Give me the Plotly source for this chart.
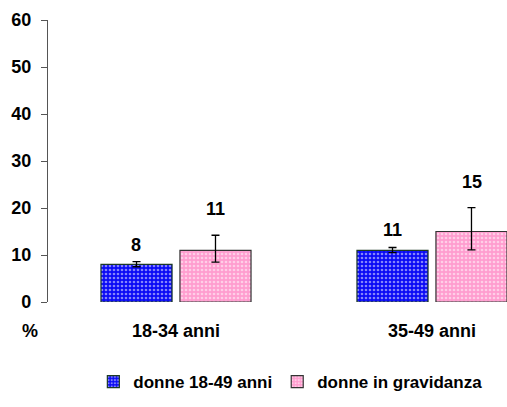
import plotly.graph_objects as go

categories = ["18-34 anni", "35-49 anni"]
series_names = ["donne 18-49 anni", "donne in gravidanza"]
donne = [8, 11]
donne_hi = [8.6, 11.6]
donne_lo = [7.5, 10.5]
gravidanza = [11, 15]
grav_hi = [14.2, 20.1]
grav_lo = [8.5, 11.1]
y_ticks = [0, 10, 20, 30, 40, 50, 60]

FONT = "Liberation Sans, Arial, Helvetica, sans-serif"
FS = 18

fig = go.Figure()

def add_series(name, vals, hi, lo, color, line_color):
    fig.add_trace(go.Bar(
        x=categories, y=vals, name=name,
        marker=dict(color=color, line=dict(color=line_color, width=1.2),
                    pattern=dict(shape=".", fgcolor="white", size=4, solidity=0.35)),
        error_y=dict(type="data", symmetric=False,
                     array=[h - v for h, v in zip(hi, vals)],
                     arrayminus=[v - l for v, l in zip(vals, lo)],
                     color="black", thickness=1.3, width=4),
    ))

add_series(series_names[0], donne, donne_hi, donne_lo, "#0a0af5", "#1d3a24")
add_series(series_names[1], gravidanza, grav_hi, grav_lo, "#ff9dcf", "#333333")

# value labels above error bars
for i, c in enumerate(categories):
    for vals, hi, shift, off in [(donne, donne_hi, 17, -0.155), (gravidanza, grav_hi, 26, 0.155)]:
        fig.add_annotation(x=i + off, y=hi[i], xref="x", yref="y", text=str(vals[i]),
                           showarrow=False, yshift=shift, yanchor="middle",
                           font=dict(size=FS, color="black", family=FONT, weight="bold"))

fig.add_annotation(x=-0.04, xref="paper", y=-0.103, yref="paper", text="%", showarrow=False,
                   xanchor="center", yanchor="middle",
                   font=dict(size=FS, color="black", family=FONT, weight="bold"))

fig.update_layout(
    width=507, height=407,
    margin=dict(l=48, r=0, t=20, b=105),
    paper_bgcolor="white", plot_bgcolor="white",
    font=dict(family=FONT, size=FS, color="black", weight="bold"),
    barmode="group", bargap=0.383, bargroupgap=0.1,
    showlegend=True,
    legend=dict(orientation="h", x=0.528, xanchor="center", y=-0.284, yanchor="middle",
                font=dict(size=17, family=FONT, weight="bold", color="black"),
                itemwidth=30, tracegroupgap=0),
    xaxis=dict(type="category", range=[-0.5, 1.293], showline=False, ticks="",
               showgrid=False, zeroline=False, ticklabelstandoff=16,
               tickfont=dict(size=FS, family=FONT, weight="bold")),
    yaxis=dict(range=[0, 60], tickvals=y_ticks, showline=True, linecolor="#555555",
               linewidth=1.3, ticks="outside", ticklen=6, tickcolor="#555555",
               showgrid=False, zeroline=False,
               tickfont=dict(size=FS, family=FONT, weight="bold"), ticklabelstandoff=6),
)

fig.write_html("out.html", config={"displayModeBar": False},
               post_script="document.body.style.margin='0';document.body.style.overflow='hidden';")
